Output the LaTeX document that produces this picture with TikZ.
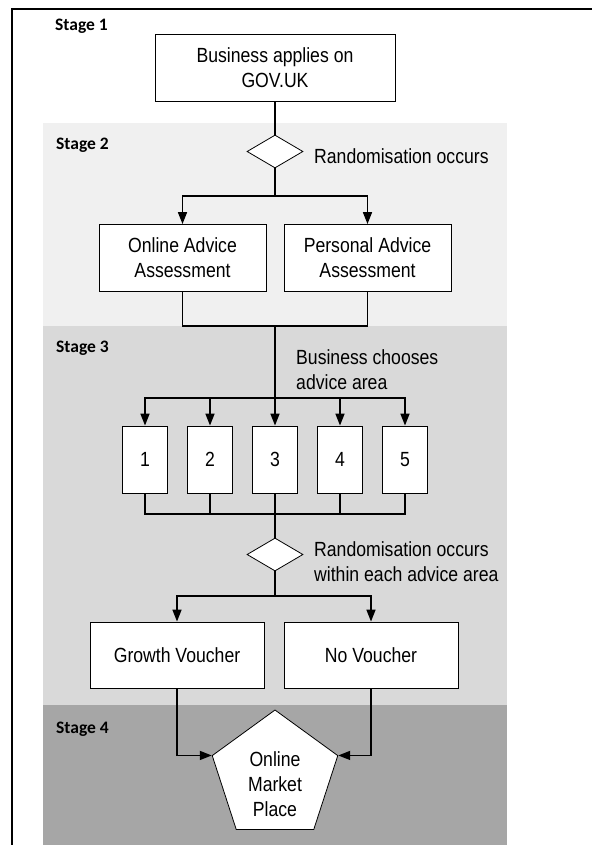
\documentclass[tikz,border=0pt]{standalone}
\usepackage{fontspec}
\setmainfont[FakeStretch=0.86]{Liberation Sans}
\newfontfamily\stagefont{Carlito}
\usetikzlibrary{shapes.geometric,arrows.meta}
\definecolor{bandtwo}{HTML}{F0F0F0}
\definecolor{bandthree}{HTML}{D9D9D9}
\definecolor{bandfour}{HTML}{A6A6A6}
\begin{document}
\begin{tikzpicture}[x=1pt,y=-1pt,
    box/.style={draw=black, line width=0.8pt, fill=white, align=center},
    wide/.style={minimum width=167, minimum height=67},
    area/.style={minimum width=45, minimum height=67},
    decision/.style={diamond, draw=black, line width=0.8pt, fill=white, minimum width=56, minimum height=33},
    stage/.style={font=\stagefont\bfseries\fontsize{17.5}{20}\selectfont, anchor=base west},
    note/.style={align=left, anchor=west},
    link/.style={line width=1.6pt},
    tip/.style={-{Triangle[length=12pt,width=9pt]}}]
    \tikzstyle{every node}+=[inner sep=0pt, font=\fontsize{20.5}{25}\selectfont]
    \useasboundingbox (0,0) rectangle (592,845);
    \fill [bandtwo] (43,123) rectangle (507,326);
    \fill [bandthree] (43,326) rectangle (507,705);
    \fill [bandfour] (43,705) rectangle (507,845);
    \draw [line width=1.5pt] (12,845) |- (592,9);
    \node [stage] (stage1) at (55,31) {Stage 1};
    \node [stage] (stage2) at (56,150) {Stage 2};
    \node [stage] (stage3) at (56,352) {Stage 3};
    \node [stage] (stage4) at (56,733) {Stage 4};
    \node [box, minimum width=240, minimum height=67] (apply) at (275,67.5) {Business applies on\\GOV.UK};
    \node [decision] (rand1) at (275,151.5) {};
    \node [note] (rand1txt) at (314,156) {Randomisation occurs};
    \node [box, wide] (online) at (182.5,258) {Online Advice\\Assessment};
    \node [box, wide] (personal) at (367.5,258) {Personal Advice\\Assessment};
    \coordinate (split1) at (275,196);
    \coordinate (merge1) at (275,326);
    \node [note] (choosetxt) at (296,370) {Business chooses\\advice area};
    \coordinate (dist) at (275,398);
    \coordinate (merge2) at (275,514);
    \foreach \i in {1,...,5}
        \node [box, area] (area\i) at ({80+65*\i},459.5) {\i};
    \node [decision] (rand2) at (275,554.5) {};
    \node [note] (rand2txt) at (314,562) {Randomisation occurs\\within each advice area};
    \coordinate (split2) at (275,596);
    \node [box, minimum width=174, minimum height=66] (growth) at (177,655) {Growth Voucher};
    \node [box, minimum width=174, minimum height=66] (novoucher) at (371,655) {No Voucher};
    \node [regular polygon, regular polygon sides=5, draw=black, line width=0.8pt, fill=white, minimum size=132,
        label={[align=center, yshift=-8pt]center:Online\\Market\\Place}] (market) at (275,776) {};
    \draw [link] (apply) -- (rand1);
    \draw [link] (rand1) -- (split1);
    \draw [link, tip] (split1) -| (online);
    \draw [link, tip] (split1) -| (personal);
    \draw [link] (online) |- (merge1) -| (personal);
    \draw [link] (merge1) -- (dist);
    \foreach \i in {1,...,5} {
        \draw [link, tip] (dist) -| (area\i);
        \draw [link] (area\i) |- (merge2);
    }
    \draw [link] (merge2) -- (rand2);
    \draw [link] (rand2) -- (split2);
    \draw [link, tip] (split2) -| (growth);
    \draw [link, tip] (split2) -| (novoucher);
    \draw [link, tip] (growth) |- (market.corner 2);
    \draw [link, tip] (novoucher) |- (market.corner 5);
\end{tikzpicture}
\end{document}
